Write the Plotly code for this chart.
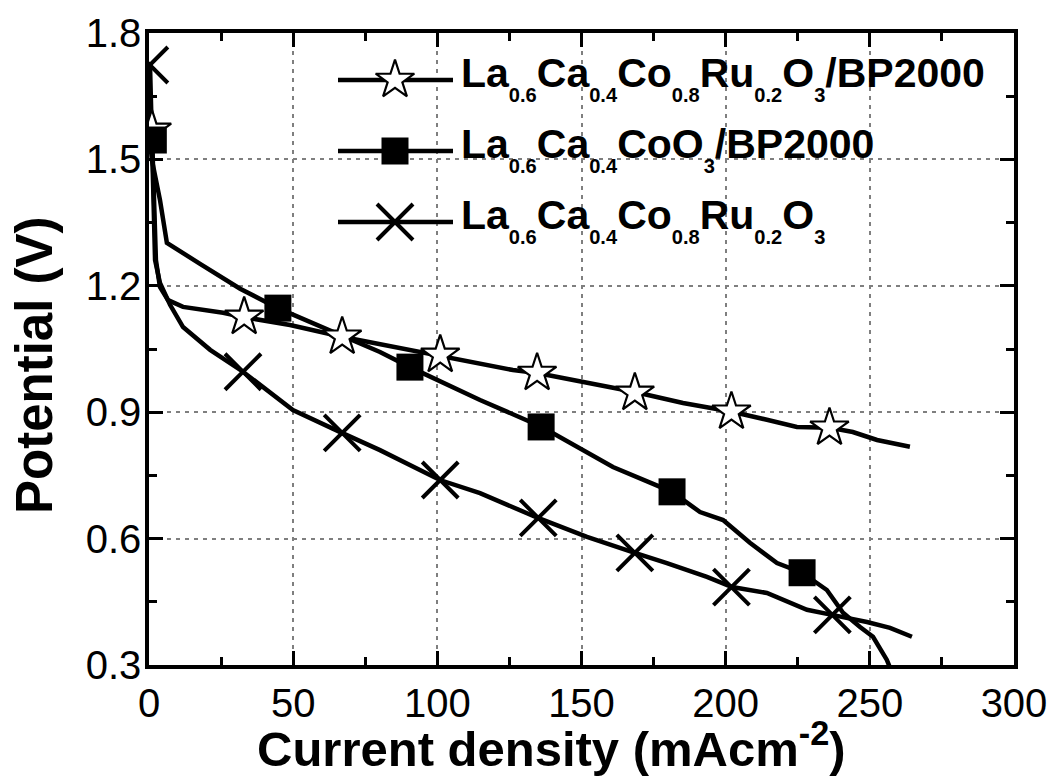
import plotly.graph_objects as go

# ---------------- data ----------------
# La0.6Ca0.4Co0.8Ru0.2O3/BP2000 (stars)
star_line_x = [1.0, 1.4, 2.4, 3.8, 6.6, 11.8, 25.7, 32.6, 48.9, 66.9, 87.0, 100.9, 126.2, 134.6,
               151.9, 168.5, 185.2, 202.2, 214.3, 224.7, 236.2, 244.1, 252.5, 263.9]
star_line_y = [1.570, 1.451, 1.261, 1.197, 1.166, 1.150, 1.136, 1.126, 1.107, 1.079, 1.052, 1.036, 1.000, 0.993,
               0.969, 0.948, 0.922, 0.901, 0.882, 0.865, 0.863, 0.853, 0.834, 0.818]
star_mark_x = [1.0, 33.0, 67.0, 101.0, 134.6, 168.5, 202.0, 236.0]
star_mark_y = [1.570, 1.126, 1.079, 1.036, 0.993, 0.946, 0.901, 0.863]

# La0.6Ca0.4CoO3/BP2000 (squares)
sq_line_x = [0.35, 1.0, 3.8, 6.2, 17.7, 31.6, 44.7, 62.8, 80.1, 90.5, 114.8, 136.3, 160.9, 181.4,
             191.1, 199.1, 208.4, 217.8, 226.5, 235.1, 240.7, 246.6, 251.1, 255.9, 258.7]
sq_line_y = [1.546, 1.499, 1.404, 1.302, 1.252, 1.193, 1.147, 1.095, 1.043, 1.007, 0.929, 0.865, 0.770, 0.711,
             0.663, 0.644, 0.590, 0.542, 0.519, 0.478, 0.424, 0.390, 0.367, 0.312, 0.265]
sq_mark_x = [1.5, 44.7, 90.5, 136.0, 181.4, 226.5]
sq_mark_y = [1.546, 1.147, 1.007, 0.865, 0.711, 0.519]

# La0.6Ca0.4Co0.8Ru0.2O3 (crosses)
x_line_x = [0.35, 0.7, 1.4, 2.1, 3.8, 7.3, 11.8, 21.2, 32.6, 49.9, 66.9, 80.1, 100.9, 114.8, 134.9,
            151.9, 168.5, 179.6, 193.5, 202.2, 214.3, 228.2, 236.9, 249.0, 257.0, 264.6]
x_line_y = [1.724, 1.617, 1.404, 1.261, 1.207, 1.155, 1.102, 1.048, 0.996, 0.905, 0.851, 0.810, 0.739, 0.708, 0.649,
            0.604, 0.566, 0.542, 0.509, 0.485, 0.471, 0.431, 0.419, 0.402, 0.388, 0.367]
x_mark_x = [0.3, 32.6, 67.0, 101.0, 135.0, 168.5, 202.0, 237.0]
x_mark_y = [1.724, 0.996, 0.851, 0.739, 0.649, 0.566, 0.485, 0.419]

x_ticks = [0, 50, 100, 150, 200, 250, 300]
y_ticks = [0.3, 0.6, 0.9, 1.2, 1.5, 1.8]

x_title = "<b>Current density (mAcm<sup>-2</sup>)</b>"
y_title = "<b>Potential (V)</b>"
series_names = [
    "La<sub><sub>0.6</sub></sub>Ca<sub><sub>0.4</sub></sub>Co<sub><sub>0.8</sub></sub>Ru<sub><sub>0.2</sub></sub>O<sub><sub>3</sub></sub>/BP2000",
    "La<sub><sub>0.6</sub></sub>Ca<sub><sub>0.4</sub></sub>CoO<sub><sub>3</sub></sub>/BP2000",
    "La<sub><sub>0.6</sub></sub>Ca<sub><sub>0.4</sub></sub>Co<sub><sub>0.8</sub></sub>Ru<sub><sub>0.2</sub></sub>O<sub><sub>3</sub></sub>",
]

# ---------------- styles ----------------
W, H = 1051, 780
ML, MR, MT, MB = 149, 37, 33, 115
FONT = "Liberation Sans, Arial, sans-serif"
LW = 4.5

star_marker = dict(symbol="star", size=29, color="white", line=dict(color="black", width=2.2))
sq_marker = dict(symbol="square", size=27, color="black", line=dict(color="black", width=0))
x_marker = dict(symbol="x-thin", size=36, color="black", line=dict(color="black", width=4))

fig = go.Figure()

for lx, ly in [(star_line_x, star_line_y), (sq_line_x, sq_line_y), (x_line_x, x_line_y)]:
    fig.add_trace(go.Scatter(x=lx, y=ly, mode="lines", line=dict(color="black", width=LW),
                             showlegend=False, hoverinfo="skip"))

fig.add_trace(go.Scatter(x=star_mark_x, y=star_mark_y, mode="markers", marker=star_marker, showlegend=False))
fig.add_trace(go.Scatter(x=sq_mark_x, y=sq_mark_y, mode="markers", marker=sq_marker, showlegend=False))
fig.add_trace(go.Scatter(x=x_mark_x, y=x_mark_y, mode="markers", marker=x_marker, showlegend=False))

# ---------------- custom legend (overlay axes in plot-fraction units) ----------------
plot_w = W - ML - MR
plot_h = H - MT - MB


def fx(px):
    return (px - ML) / plot_w


def fy(py):
    return (H - MB - py) / plot_h


legend_rows = [(80, star_marker), (151, sq_marker), (222, x_marker)]
for (py, mk), name in zip(legend_rows, series_names):
    fig.add_trace(go.Scatter(x=[fx(338), fx(453)], y=[fy(py), fy(py)], xaxis="x2", yaxis="y2",
                             mode="lines", line=dict(color="black", width=LW),
                             showlegend=False, hoverinfo="skip", cliponaxis=False))
    fig.add_trace(go.Scatter(x=[fx(395)], y=[fy(py)], xaxis="x2", yaxis="y2", mode="markers",
                             marker=mk, showlegend=False, hoverinfo="skip", cliponaxis=False))
    fig.add_annotation(x=fx(459), y=fy(py - 2), xref="paper", yref="paper", xanchor="left",
                       yanchor="middle", text="<b>" + name + "</b>", showarrow=False,
                       font=dict(family=FONT, size=41, color="black"))

# axis titles as annotations for exact placement
fig.add_annotation(x=fx(551), y=fy(745), xref="paper", yref="paper", xanchor="center", yanchor="middle",
                   text=x_title, showarrow=False, font=dict(family=FONT, size=49, color="black"))
fig.add_annotation(x=fx(34), y=fy(365), xref="paper", yref="paper", xanchor="center", yanchor="middle",
                   text=y_title, showarrow=False, textangle=-90,
                   font=dict(family=FONT, size=51, color="black"))

axis_common = dict(
    ticks="inside", ticklen=14, tickwidth=3, tickcolor="black",
    showline=True, linewidth=3.5, linecolor="black", mirror="ticks",
    showgrid=True, gridcolor="#7f7f7f", gridwidth=2, griddash="4px,5px",
    zeroline=False, tickfont=dict(family=FONT, size=40, color="black"),
    minor=dict(ticks="inside", ticklen=8, tickwidth=3, tickcolor="black", showgrid=False),
)

fig.update_layout(
    width=W, height=H,
    margin=dict(l=ML, r=MR, t=MT, b=MB, autoexpand=False),
    paper_bgcolor="white", plot_bgcolor="white",
    showlegend=False,
    xaxis=dict(range=[0, 300], tickvals=x_ticks, ticktext=[str(v) for v in x_ticks],
               ticklabelstandoff=0, **axis_common),
    yaxis=dict(range=[0.3, 1.8], tickvals=y_ticks, ticktext=["%.1f" % v for v in y_ticks],
               ticklabelstandoff=-4, **axis_common),
    xaxis2=dict(overlaying="x", range=[0, 1], visible=False),
    yaxis2=dict(overlaying="y", range=[0, 1], visible=False),
)
fig.update_layout(xaxis_minor_dtick=25, yaxis_minor_dtick=0.15)

fig.write_html("out.html")
